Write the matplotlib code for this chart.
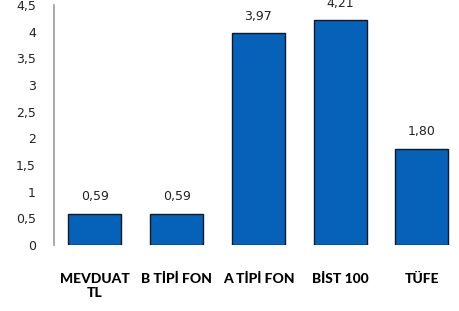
import matplotlib.pyplot as plt
import numpy as np

# data
categories = ["MEVDUAT\nTL", "B TİPİ FON", "A TİPİ FON", "BİST 100", "TÜFE"]
values = [0.59, 0.59, 3.97, 4.21, 1.80]
yticks = [0, 0.5, 1, 1.5, 2, 2.5, 3, 3.5, 4, 4.5]

fig = plt.figure(figsize=(4.6, 3.11), dpi=100)
ax = fig.add_axes([0.1174, 0.212, 0.8886, 0.772])

x = np.arange(len(categories))
bars = ax.bar(x, values, width=0.65, color="#0562B8", edgecolor="#101828", linewidth=1.0)

for xi, v in zip(x, values):
    ax.text(xi, v + 0.2, f"{v:.2f}".replace(".", ","), ha="center", va="bottom",
            fontsize=9, color="#222222")

ax.set_xlim(-0.5, len(categories) - 0.5)
ax.set_ylim(0, 4.5)
ax.set_yticks(yticks)
ax.set_yticklabels([f"{t:g}".replace(".", ",") for t in yticks], fontsize=9, color="#222222")
ax.set_xticks(x)
ax.set_xticklabels(categories, fontsize=10, fontweight="black", family="Lato",
                   linespacing=1.25)
ax.tick_params(axis="y", length=0, pad=13)
ax.tick_params(axis="x", length=0, pad=20)

for s in ["top", "right", "bottom"]:
    ax.spines[s].set_visible(False)
ax.spines["left"].set_color("#999999")
ax.spines["left"].set_linewidth(1.2)

plt.savefig("out.png", dpi=100)
